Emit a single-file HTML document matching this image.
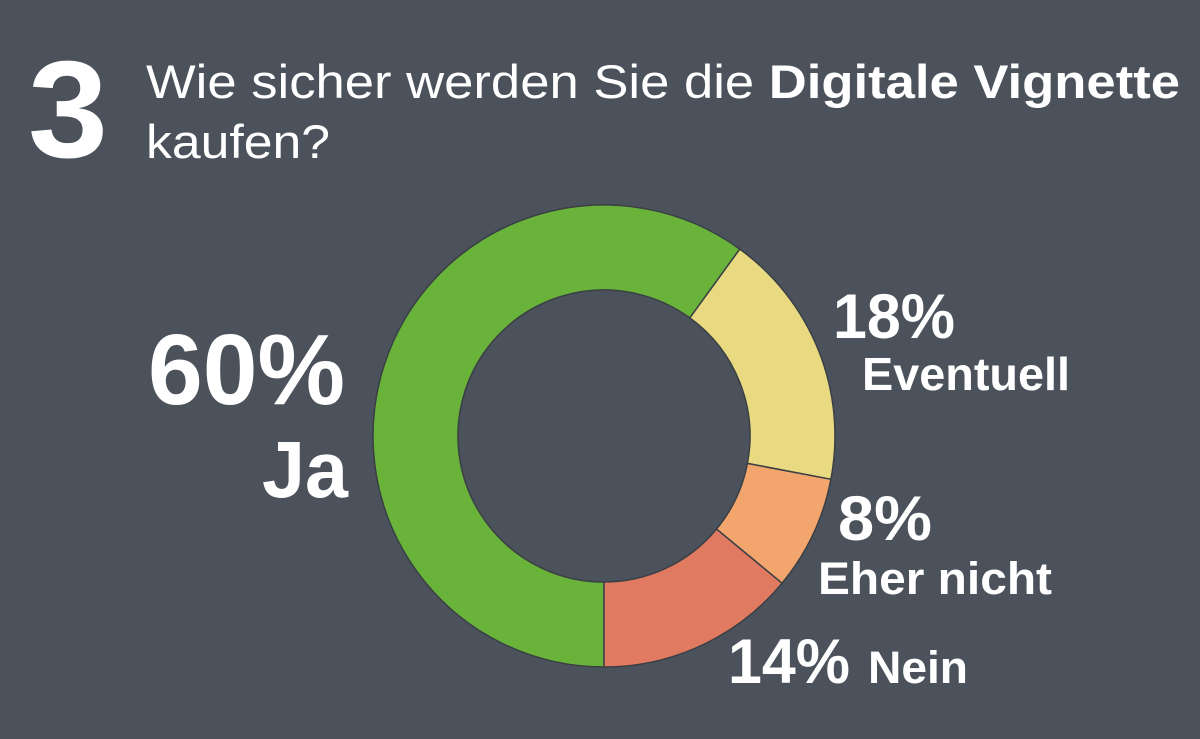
<!DOCTYPE html>
<html><head><meta charset="utf-8"><style>
html,body{margin:0;padding:0;}
body{width:1200px;height:739px;background:#4b525b;overflow:hidden;position:relative;font-family:"Liberation Sans",Arial,sans-serif;color:#fff;}
</style></head><body>
<svg width="1200" height="739" style="position:absolute;left:0;top:0" font-family="Liberation Sans, Arial, sans-serif" fill="#fff">
<text x="28" y="157" font-size="138" font-weight="bold" textLength="80" lengthAdjust="spacingAndGlyphs">3</text>
<text x="146" y="98" font-size="47" textLength="1034" lengthAdjust="spacingAndGlyphs">Wie sicher werden Sie die <tspan font-weight="bold">Digitale Vignette</tspan></text>
<text x="146" y="158" font-size="47" textLength="184" lengthAdjust="spacingAndGlyphs">kaufen?</text>
<g stroke="#3a3f44" stroke-width="1.5">
<path d="M604,667 A231 231 0 1 1 739.8,249.1 L689.8,317.9 A146 146 0 1 0 604,582 Z" fill="#69b33a"/>
<path d="M739.8,249.1 A231 231 0 0 1 830.9,479.3 L747.4,463.4 A146 146 0 0 0 689.8,317.9 Z" fill="#e9da82"/>
<path d="M830.9,479.3 A231 231 0 0 1 782,583.2 L716.5,529.1 A146 146 0 0 0 747.4,463.4 Z" fill="#f2a66e"/>
<path d="M782,583.2 A231 231 0 0 1 604,667 L604,582 A146 146 0 0 0 716.5,529.1 Z" fill="#e07b62"/>
</g>
<text x="148" y="404" font-size="100" font-weight="bold" textLength="197" lengthAdjust="spacingAndGlyphs">60%</text>
<text x="262" y="497" font-size="80" font-weight="bold" textLength="86" lengthAdjust="spacingAndGlyphs">Ja</text>
<text x="833" y="338" font-size="63" font-weight="bold" textLength="122" lengthAdjust="spacingAndGlyphs">18%</text>
<text x="862" y="390" font-size="46" font-weight="bold" textLength="208" lengthAdjust="spacingAndGlyphs">Eventuell</text>
<text x="838" y="540" font-size="63" font-weight="bold" textLength="94" lengthAdjust="spacingAndGlyphs">8%</text>
<text x="818" y="594" font-size="45" font-weight="bold" textLength="234" lengthAdjust="spacingAndGlyphs">Eher nicht</text>
<text x="728" y="683" font-size="63" font-weight="bold" textLength="122" lengthAdjust="spacingAndGlyphs">14%</text>
<text x="868" y="683" font-size="45" font-weight="bold" textLength="100" lengthAdjust="spacingAndGlyphs">Nein</text>
</svg>
</body></html>
